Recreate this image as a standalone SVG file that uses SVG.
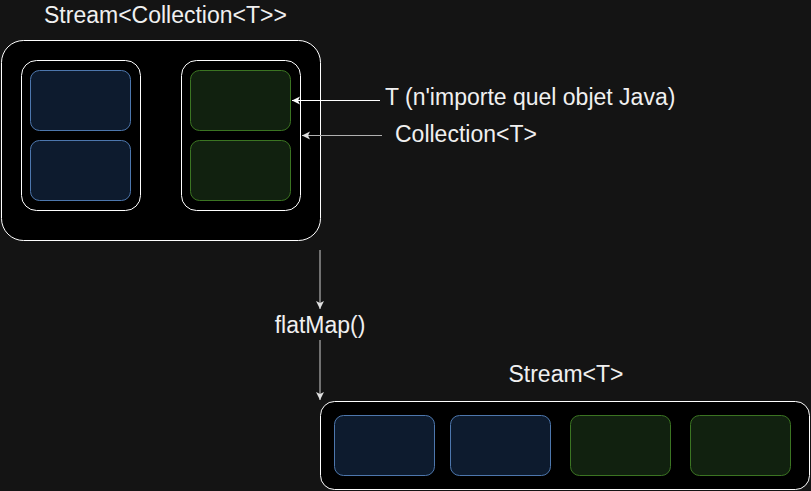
<svg xmlns="http://www.w3.org/2000/svg" width="811" height="491" viewBox="0 0 811 491">
<style>
text{font-family:"Liberation Sans",Arial,sans-serif;font-size:23px;fill:#f0f0f0}
.box{fill:#000;stroke:#fff;stroke-width:1}
.blue{fill:#0d1b2e;stroke:#4d77ad;stroke-width:1}
.green{fill:#11210f;stroke:#3b7422;stroke-width:1}
.w{stroke:#fff;stroke-width:1;fill:none}
.g{stroke:#b0b0b0;stroke-width:1.2;fill:none}
</style>
<defs>
<marker id="aw" markerWidth="10" markerHeight="10" refX="9" refY="5" orient="auto" markerUnits="userSpaceOnUse"><path d="M1,1 L9,5 L1,9 L3,5 Z" fill="#fff"/></marker>
<marker id="ag" markerWidth="10" markerHeight="10" refX="9" refY="5" orient="auto" markerUnits="userSpaceOnUse"><path d="M1,1 L9,5 L1,9 L3,5 Z" fill="#e0e0e0"/></marker>
</defs>
<rect width="811" height="491" fill="#141414"/>
<g id="stream-collection">
<rect class="box" x="1.5" y="40.5" width="319" height="200" rx="22"/>
<text x="44" y="23">Stream&lt;Collection&lt;T&gt;&gt;</text>
</g>
<g id="collection-left">
<rect class="box" x="21.5" y="60.5" width="119" height="150" rx="15"/>
<rect class="blue" x="30.5" y="70.5" width="100" height="60" rx="9"/>
<rect class="blue" x="30.5" y="140.5" width="100" height="60" rx="9"/>
</g>
<g id="collection-right">
<rect class="box" x="181.5" y="60.5" width="119" height="150" rx="15"/>
<rect id="item-t" class="green" x="190.5" y="70.5" width="100" height="60" rx="9"/>
<rect class="green" x="190.5" y="140.5" width="100" height="60" rx="9"/>
</g>
<g id="label-t"><text x="385" y="105">T (n'importe quel objet Java)</text></g>
<g id="label-collection"><text x="395" y="142">Collection&lt;T&gt;</text></g>
<g id="flatmap"><text x="320" y="333" text-anchor="middle">flatMap()</text></g>
<g id="stream-t">
<text x="566" y="382" text-anchor="middle">Stream&lt;T&gt;</text>
<rect class="box" x="320.5" y="401.5" width="489" height="88" rx="14"/>
<rect class="blue" x="334.5" y="415.5" width="100" height="60" rx="9"/>
<rect class="blue" x="450.5" y="415.5" width="100" height="60" rx="9"/>
<rect class="green" x="570.5" y="415.5" width="100" height="60" rx="9"/>
<rect class="green" x="690.5" y="415.5" width="100" height="60" rx="9"/>
</g>
<g id="connectors">
<line class="w" x1="380" y1="100.5" x2="292" y2="100.5" marker-end="url(#aw)"/>
<line class="g" x1="382" y1="135.5" x2="302" y2="135.5" marker-end="url(#ag)"/>
<line class="g" x1="320" y1="250" x2="320" y2="309" marker-end="url(#ag)"/>
<line class="g" x1="320" y1="340" x2="320" y2="400" marker-end="url(#ag)"/>
</g>
</svg>
